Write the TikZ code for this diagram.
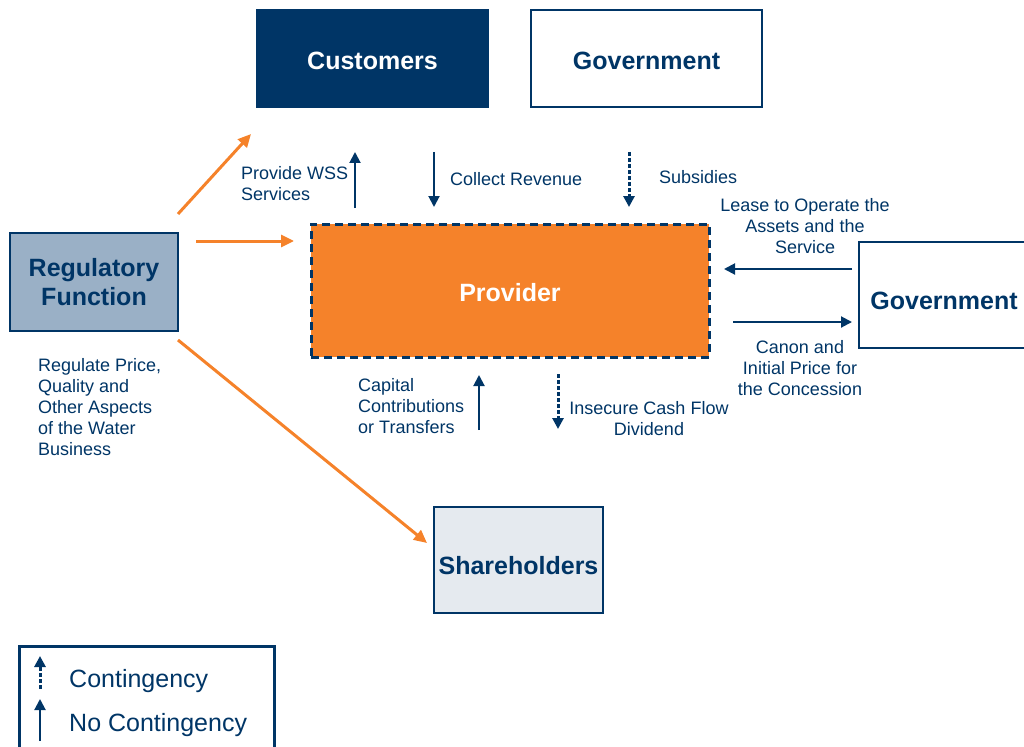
\documentclass[tikz,border=0pt]{standalone}
\usepackage{fontspec}
\setmainfont{Liberation Sans}
\usetikzlibrary{arrows.meta}
\definecolor{navy}{RGB}{0,53,102}
\definecolor{regorange}{RGB}{245,130,42}
\definecolor{regfill}{RGB}{154,176,198}
\definecolor{sharefill}{RGB}{229,234,239}
\newcommand{\lowertext}[2]{\raisebox{-#1}[\height][\depth]{#2}}
\begin{document}
\begin{tikzpicture}[x=1pt,y=-1pt,
    box/.style={rectangle,inner sep=0pt,outer sep=0pt,line width=1.5pt,draw=navy,text=navy,align=center,
        font=\fontsize{25}{29}\selectfont\bfseries},
    lbl/.style={inner sep=0pt,text=navy,font=\fontsize{18}{21}\selectfont},
    flow/.style={draw=navy,line width=2pt,-{Triangle[length=11pt,width=11pt]}},
    maybe/.style={flow,line width=3pt,dash pattern=on 4pt off 2pt},
    orangeflow/.style={draw=regorange,line width=3pt,-{Triangle[length=13pt,width=12pt]}}]

    \useasboundingbox (0,0) rectangle (1024,746);
    \clip (0,0) rectangle (1024,746);

    \node[box,fill=navy,text=white,minimum width=231pt,minimum height=97pt] (cust) at (372.5,58.5) {\lowertext{2pt}{Customers}};
    \node[box,minimum width=231pt,minimum height=97pt] (govtop) at (646.5,58.5) {\lowertext{2pt}{Government}};
    \node[box,fill=regorange,text=white,line width=3pt,dash pattern=on 8pt off 5pt,
        minimum width=398pt,minimum height=133pt] (prov) at (510,290.5) {\lowertext{2pt}{Provider}};
    \node[box,fill=regfill,minimum width=168pt,minimum height=98pt] (reg) at (94,282) {Regulatory\\Function};
    \node[box,minimum width=170pt,minimum height=106pt] (govright) at (944,295) {\lowertext{6pt}{Government}};
    \node[box,fill=sharefill,minimum width=169pt,minimum height=106pt] (share) at (518.5,560) {\lowertext{6pt}{Shareholders}};

    \coordinate (wss-a) at (355,208);    \coordinate (wss-b) at (355,152);
    \coordinate (rev-a) at (434,152);    \coordinate (rev-b) at (434,207);
    \coordinate (sub-a) at (629,152);    \coordinate (sub-b) at (629,207);
    \coordinate (lease-a) at (852,269);  \coordinate (lease-b) at (724,269);
    \coordinate (canon-a) at (733,322);  \coordinate (canon-b) at (852,322);
    \coordinate (cap-a) at (479,430);    \coordinate (cap-b) at (479,375);
    \coordinate (div-a) at (558,374);    \coordinate (div-b) at (558,429);

    \draw[flow] (wss-a) -- (wss-b);
    \draw[flow] (rev-a) -- (rev-b);
    \draw[maybe] (sub-a) -- (sub-b);
    \draw[flow] (lease-a) -- (lease-b);
    \draw[flow] (canon-a) -- (canon-b);
    \draw[flow] (cap-a) -- (cap-b);
    \draw[maybe] (div-a) -- (div-b);

    \coordinate (reg-up) at (178,214);   \coordinate (cust-in) at (251,134);
    \coordinate (reg-mid) at (196,241);  \coordinate (prov-in) at (294,241);
    \coordinate (reg-down) at (178,340); \coordinate (share-in) at (427,543);

    \draw[orangeflow] (reg-up) -- (cust-in);
    \draw[orangeflow] (reg-mid) -- (prov-in);
    \draw[orangeflow] (reg-down) -- (share-in);

    \node[lbl,anchor=west,align=left] (wss) at (241,184) {Provide WSS\\Services};
    \node[lbl,anchor=west] (rev) at (450,179) {Collect Revenue};
    \node[lbl,anchor=west] (sub) at (659,177) {Subsidies};
    \node[lbl,align=center] (lease) at (805,226) {Lease to Operate the\\Assets and the\\Service};
    \node[lbl,align=center] (canon) at (800,368) {Canon and\\Initial Price for\\the Concession};
    \node[lbl,anchor=west,align=left] (cap) at (358,406) {Capital\\Contributions\\or Transfers};
    \node[lbl,align=center] (div) at (649,418.5) {Insecure Cash Flow\\Dividend};
    \node[lbl,anchor=west,align=left] (regtext) at (38,407) {Regulate Price,\\Quality and\\Other Aspects\\of the Water\\Business};

    \node[box,line width=3pt,minimum width=255pt,minimum height=114pt] (legend) at (146.5,703) {};
    \coordinate (cont-a) at (40,689);    \coordinate (cont-b) at (40,656);
    \coordinate (nocont-a) at (40,741);  \coordinate (nocont-b) at (40,699);
    \draw[maybe] (cont-a) -- (cont-b);
    \draw[flow] (nocont-a) -- (nocont-b);
    \node[lbl,anchor=west,font=\fontsize{25}{29}\selectfont] (conttext) at (69,681) {Contingency};
    \node[lbl,anchor=west,font=\fontsize{25}{29}\selectfont] (nocontext) at (69,725) {No Contingency};

\end{tikzpicture}
\end{document}
